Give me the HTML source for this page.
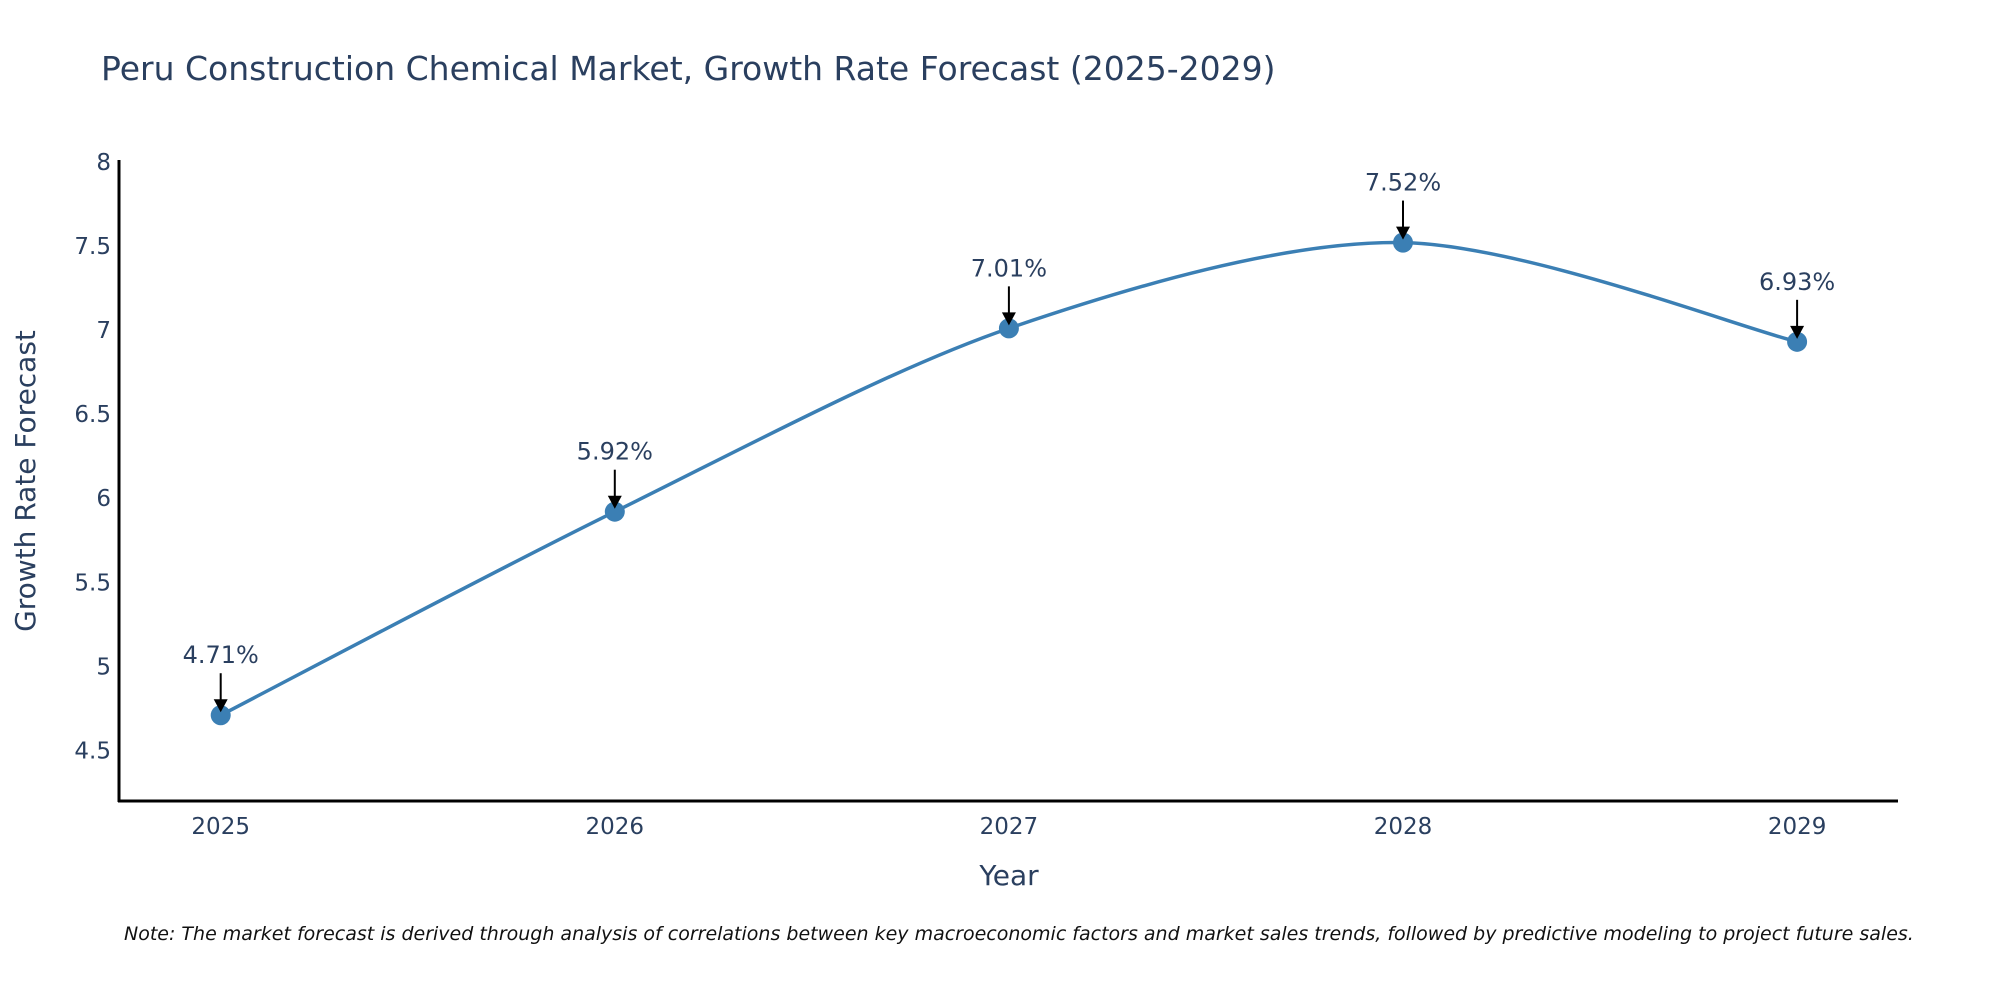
<!DOCTYPE html>
<html><head><meta charset="utf-8"><style>
body{margin:0;background:#fff;}
svg{display:block;font-family:"DejaVu Sans","Liberation Sans",sans-serif;}
</style></head><body>
<svg id="chart" width="2000" height="1000" viewBox="0 0 2000 1000" xmlns="http://www.w3.org/2000/svg">
<text x="101" y="80" font-size="33" fill="#2a3f5f">Peru Construction Chemical Market, Growth Rate Forecast (2025-2029)</text>
<g id="yticks"></g><g id="xticks"></g>
<line x1="119" y1="160" x2="119" y2="802" stroke="#000" stroke-width="3"/>
<line x1="118" y1="801" x2="1898" y2="801" stroke="#000" stroke-width="3"/>
<text transform="translate(35,481) rotate(-90)" text-anchor="middle" font-size="28" fill="#2a3f5f">Growth Rate Forecast</text>
<text x="1009" y="885" text-anchor="middle" font-size="28" fill="#2a3f5f">Year</text>
<g id="series"></g>
<text x="124" y="940" font-size="19" font-style="italic" fill="#111">Note: The market forecast is derived through analysis of correlations between key macroeconomic factors and market sales trends, followed by predictive modeling to project future sales.</text>
</svg>
<script>
const years = [2025, 2026, 2027, 2028, 2029];
const values = [4.71, 5.92, 7.01, 7.52, 6.93];
const yTicks = [4.5, 5, 5.5, 6, 6.5, 7, 7.5, 8];
const NS = "http://www.w3.org/2000/svg";
function xs(v){ return 220.7 + (v - 2025) * 394.1; }
function ys(v){ return 801 - (v - 4.2) * 168.2; }
function mk(tag, attrs, parent){ const e=document.createElementNS(NS,tag); for(const k in attrs) e.setAttribute(k,attrs[k]); parent.appendChild(e); return e; }
const yg=document.getElementById('yticks'), xg=document.getElementById('xticks'), sg=document.getElementById('series');
yTicks.forEach(t=>{
  const e=mk('text',{x:111,y:ys(t)+8,'text-anchor':'end','font-size':23,fill:'#2a3f5f'},yg);
  
  
  e.textContent=String(t);
});
years.forEach(y=>{
  const e=mk('text',{x:xs(y),y:834,'text-anchor':'middle','font-size':23,fill:'#2a3f5f'},xg);
  
  
  e.textContent=String(y);
});
const pts=years.map((y,i)=>[xs(y),ys(values[i])]);
let d='M'+pts[0][0]+','+pts[0][1];
const t=0.15;
for(let i=0;i<pts.length-1;i++){
  const p0=pts[Math.max(0,i-1)],p1=pts[i],p2=pts[i+1],p3=pts[Math.min(pts.length-1,i+2)];
  const c1=[p1[0]+(p2[0]-p0[0])*t,p1[1]+(p2[1]-p0[1])*t];
  const c2=[p2[0]-(p3[0]-p1[0])*t,p2[1]-(p3[1]-p1[1])*t];
  d+=' C'+c1[0]+','+c1[1]+' '+c2[0]+','+c2[1]+' '+p2[0]+','+p2[1];
}
const line=mk('path',{d:d,fill:'none',stroke:'#3b7fb4','stroke-width':3.5},sg);


pts.forEach((p,i)=>{
  const c=mk('circle',{cx:p[0],cy:p[1],r:10,fill:'#3b7fb4'},sg);
  
  
  const a=mk('line',{x1:p[0],y1:p[1]-42,x2:p[0],y2:p[1]-14,stroke:'#000','stroke-width':2},sg);
  
  
  const h=mk('polygon',{points:(p[0]-7)+','+(p[1]-16)+' '+(p[0]+7)+','+(p[1]-16)+' '+p[0]+','+(p[1]-3),fill:'#000'},sg);
  
  
  const l=mk('text',{x:p[0],y:p[1]-52,'text-anchor':'middle','font-size':24,fill:'#2a3f5f'},sg);
  
  
  l.textContent=values[i].toFixed(2)+'%';
});
</script>
</body></html>
